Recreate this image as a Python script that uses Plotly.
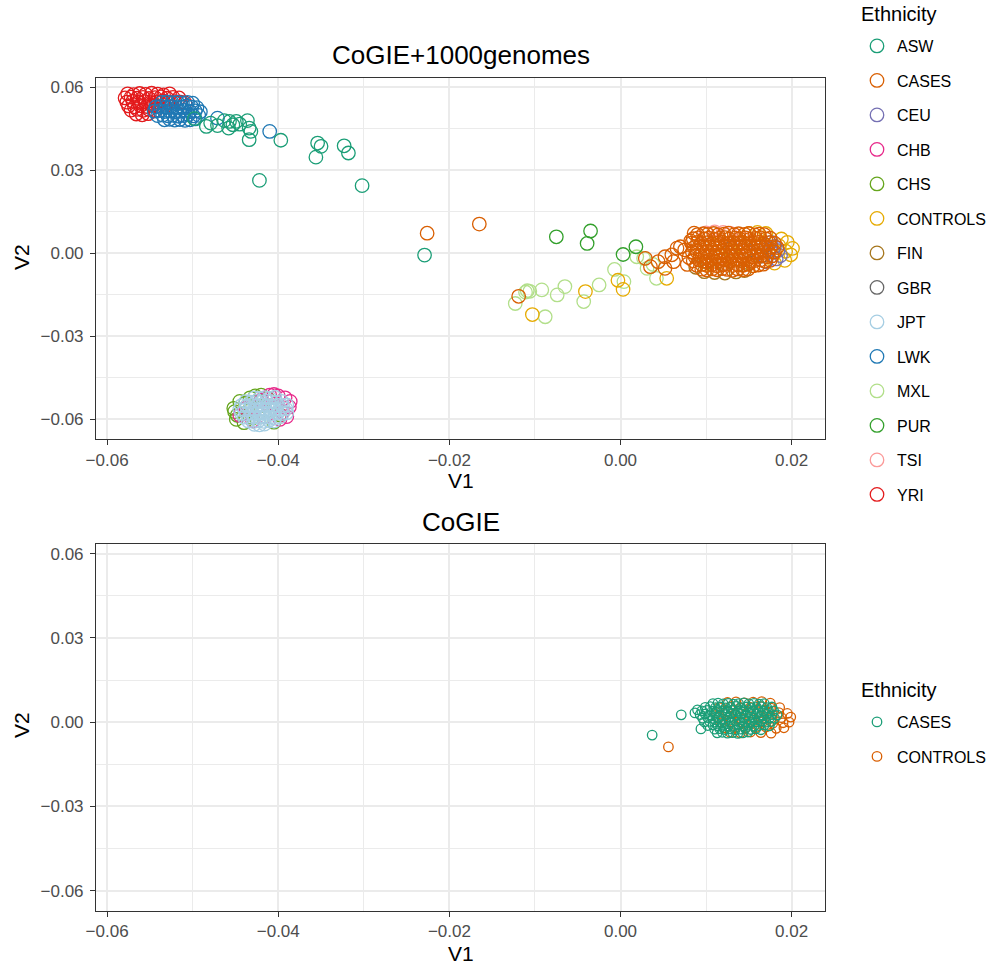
import plotly.graph_objects as go

# ---------------- CoGIE + 1000 Genomes: first two PCs per population ----------------
asw_v1 = [-0.0498, -0.0484, -0.0471, -0.0463, -0.0457, -0.0453, -0.0449, -0.0436, -0.0434, -0.0432,
          -0.0434, -0.0397, -0.0354, -0.0350, -0.0356, -0.0323, -0.0318, -0.0422, -0.0302, -0.0479,
          -0.0445, -0.0458, -0.0229]
asw_v2 = [0.0487, 0.0459, 0.0462, 0.0480, 0.0477, 0.0465, 0.0477, 0.0480, 0.0453, 0.0441,
          0.0411, 0.0409, 0.0399, 0.0387, 0.0348, 0.0389, 0.0363, 0.0264, 0.0245, 0.0471,
          0.0467, 0.0453, -0.0006]

yri_v1 = [-0.0576, -0.0569, -0.0562, -0.0555, -0.0548, -0.0541, -0.0534, -0.0527,
          -0.0579, -0.0572, -0.0565, -0.0558, -0.0551, -0.0544, -0.0537, -0.0530, -0.0523, -0.0516,
          -0.0577, -0.0570, -0.0563, -0.0556, -0.0549, -0.0542, -0.0535, -0.0528, -0.0521, -0.0514, -0.0509,
          -0.0575, -0.0568, -0.0561, -0.0554, -0.0547, -0.0540, -0.0533,
          -0.0572, -0.0565, -0.0558, -0.0551, -0.0544,
          -0.0566, -0.0559, -0.0552]
yri_v2 = [0.0577, 0.0574, 0.0578, 0.0575, 0.0579, 0.0576, 0.0573, 0.0577,
          0.0562, 0.0565, 0.0561, 0.0564, 0.0560, 0.0563, 0.0566, 0.0561, 0.0564, 0.0562,
          0.0547, 0.0550, 0.0546, 0.0549, 0.0545, 0.0548, 0.0551, 0.0546, 0.0549, 0.0547, 0.0544,
          0.0533, 0.0530, 0.0534, 0.0531, 0.0535, 0.0532, 0.0529,
          0.0518, 0.0521, 0.0517, 0.0520, 0.0516,
          0.0504, 0.0501, 0.0505]

lwk_v1 = [-0.0536, -0.0530, -0.0524, -0.0518, -0.0512, -0.0506, -0.0500,
          -0.0543, -0.0537, -0.0531, -0.0525, -0.0519, -0.0513, -0.0507, -0.0501, -0.0495,
          -0.0545, -0.0539, -0.0533, -0.0527, -0.0521, -0.0515, -0.0509, -0.0503, -0.0497, -0.0491,
          -0.0541, -0.0535, -0.0529, -0.0523, -0.0517, -0.0511, -0.0505, -0.0499, -0.0493,
          -0.0533, -0.0527, -0.0521, -0.0515, -0.0509, -0.0503, -0.0497,
          -0.0471, -0.0410]
lwk_v2 = [0.0546, 0.0548, 0.0545, 0.0547, 0.0544, 0.0546, 0.0543,
          0.0530, 0.0532, 0.0529, 0.0531, 0.0528, 0.0530, 0.0533, 0.0529, 0.0527,
          0.0514, 0.0516, 0.0513, 0.0515, 0.0512, 0.0514, 0.0517, 0.0513, 0.0515, 0.0512,
          0.0498, 0.0500, 0.0497, 0.0499, 0.0496, 0.0498, 0.0501, 0.0497, 0.0499,
          0.0483, 0.0485, 0.0482, 0.0484, 0.0481, 0.0483, 0.0486,
          0.0489, 0.0441]

chs_v1 = [-0.0452, -0.0448, -0.0445, -0.0440, -0.0427, -0.0420, -0.0412, -0.0435, -0.0430, -0.0418,
          -0.0405, -0.0449, -0.0438, -0.0424, -0.0398, -0.0451, -0.0433]
chs_v2 = [-0.0560, -0.0585, -0.0535, -0.0612, -0.0515, -0.0512, -0.0525, -0.0570, -0.0595, -0.0550,
          -0.0610, -0.0600, -0.0540, -0.0580, -0.0584, -0.0572, -0.0522]

chb_v1 = [-0.0410, -0.0400, -0.0392, -0.0386, -0.0387, -0.0395, -0.0420, -0.0438, -0.0430, -0.0415,
          -0.0404, -0.0445, -0.0425, -0.0398, -0.0405, -0.0390]
chb_v2 = [-0.0512, -0.0515, -0.0522, -0.0535, -0.0555, -0.0575, -0.0530, -0.0560, -0.0605, -0.0590,
          -0.0545, -0.0585, -0.0555, -0.0600, -0.0510, -0.0590]

jpt_v1 = [-0.0428, -0.0422, -0.0416, -0.0410, -0.0404,
          -0.0438, -0.0432, -0.0426, -0.0420, -0.0414, -0.0408, -0.0402, -0.0396,
          -0.0443, -0.0437, -0.0431, -0.0425, -0.0419, -0.0413, -0.0407, -0.0401, -0.0395, -0.0390,
          -0.0445, -0.0439, -0.0433, -0.0427, -0.0421, -0.0415, -0.0409, -0.0403, -0.0397, -0.0391,
          -0.0443, -0.0437, -0.0431, -0.0425, -0.0419, -0.0413, -0.0407, -0.0401, -0.0395, -0.0390,
          -0.0440, -0.0434, -0.0428, -0.0422, -0.0416, -0.0410, -0.0404, -0.0398,
          -0.0435, -0.0429, -0.0423, -0.0417, -0.0411, -0.0405,
          -0.0428, -0.0422, -0.0416]
jpt_v2 = [-0.0522, -0.0524, -0.0521, -0.0523, -0.0520,
          -0.0536, -0.0538, -0.0535, -0.0537, -0.0534, -0.0536, -0.0539, -0.0535,
          -0.0550, -0.0552, -0.0549, -0.0551, -0.0548, -0.0550, -0.0553, -0.0549, -0.0551, -0.0548,
          -0.0564, -0.0566, -0.0563, -0.0565, -0.0562, -0.0564, -0.0567, -0.0563, -0.0565, -0.0562,
          -0.0578, -0.0580, -0.0577, -0.0579, -0.0576, -0.0578, -0.0581, -0.0577, -0.0579, -0.0576,
          -0.0592, -0.0594, -0.0591, -0.0593, -0.0590, -0.0592, -0.0595, -0.0591,
          -0.0606, -0.0608, -0.0605, -0.0607, -0.0604, -0.0606,
          -0.0618, -0.0620, -0.0617]

mxl_v1 = [-0.0123, -0.0111, -0.0106, -0.0092, -0.0074, -0.0065, -0.0088, -0.0043, -0.0025, -0.0007,
          0.0004, 0.0019, 0.0031, 0.0042, 0.0027, 0.0038, -0.0109]
mxl_v2 = [-0.0181, -0.0140, -0.0137, -0.0132, -0.0150, -0.0120, -0.0229, -0.0174, -0.0114, -0.0058,
          -0.0102, -0.0012, -0.0054, -0.0090, -0.0018, -0.0040, -0.0135]

pur_v1 = [-0.0075, -0.0035, -0.0039, 0.0003, 0.0018]
pur_v2 = [0.0060, 0.0081, 0.0036, -0.0004, 0.0024]

tsi_v1 = [0.0100, 0.0110, 0.0120, 0.0128, 0.0112, 0.0135, 0.0150, 0.0125, 0.0145]
tsi_v2 = [0.0074, 0.0078, 0.0076, 0.0073, 0.0040, 0.0020, 0.0000, -0.0020, 0.0050]

fin_v1 = [0.0088, 0.0098, 0.0110, 0.0122, 0.0135, 0.0145, 0.0100, 0.0120, 0.0150, 0.0130]
fin_v2 = [-0.0050, -0.0066, -0.0069, -0.0071, -0.0067, -0.0062, -0.0030, -0.0040, -0.0035, -0.0010]

gbr_v1 = [0.0130, 0.0150, 0.0165, 0.0170, 0.0178]
gbr_v2 = [0.0020, 0.0010, -0.0010, 0.0030, 0.0005]

ceu_v1 = [0.0180, 0.0184, 0.0187, 0.0182, 0.0176, 0.0170, 0.0160, 0.0175]
ceu_v2 = [0.0025, 0.0010, -0.0008, -0.0020, 0.0040, -0.0030, 0.0010, 0.0015]

controls_v1 = [-0.0103, -0.0041, -0.0003, 0.0003, 0.0054, 0.0195, 0.0201, 0.0199, 0.0192, 0.0188,
               0.0180, 0.0170, 0.0160, 0.0150, 0.0140, 0.0130, 0.0120, 0.0110, 0.0100, 0.0155,
               0.0185, 0.0193]
controls_v2 = [-0.0221, -0.0138, -0.0097, -0.0130, -0.0090, 0.0040, 0.0018, -0.0005, -0.0025, 0.0052,
               -0.0035, 0.0072, 0.0076, 0.0072, 0.0040, 0.0010, -0.0020, 0.0030, -0.0040, -0.0045,
               0.0028, 0.0008]

cases_v1 = [-0.0226, -0.0165, -0.0119,
            0.0029, 0.0035, 0.0044, 0.0052, 0.0052, 0.0062, 0.0066, 0.0070, 0.0086, 0.0060, 0.0075,
            0.0078, 0.0082, 0.0080,
            0.0090, 0.0097, 0.0102, 0.0109, 0.0114, 0.0121, 0.0126, 0.0133, 0.0138, 0.0145, 0.0150,
            0.0157, 0.0162, 0.0168,
            0.0085, 0.0091, 0.0098, 0.0103, 0.0110, 0.0115, 0.0122, 0.0127, 0.0134, 0.0139, 0.0146,
            0.0151, 0.0158, 0.0163, 0.0170, 0.0175,
            0.0083, 0.0090, 0.0095, 0.0102, 0.0107, 0.0114, 0.0119, 0.0126, 0.0131, 0.0138, 0.0143,
            0.0150, 0.0155, 0.0162, 0.0167, 0.0174, 0.0180,
            0.0086, 0.0092, 0.0098, 0.0104, 0.0110, 0.0116, 0.0122, 0.0128, 0.0134, 0.0140, 0.0146,
            0.0152, 0.0158, 0.0164, 0.0170, 0.0176, 0.0183,
            0.0084, 0.0089, 0.0096, 0.0101, 0.0108, 0.0113, 0.0120, 0.0125, 0.0132, 0.0137, 0.0144,
            0.0149, 0.0156, 0.0161, 0.0168, 0.0173, 0.0180,
            0.0087, 0.0093, 0.0099, 0.0105, 0.0111, 0.0117, 0.0123, 0.0129, 0.0135, 0.0141, 0.0147,
            0.0153, 0.0159, 0.0165, 0.0171, 0.0177,
            0.0085, 0.0092, 0.0097, 0.0104, 0.0109, 0.0116, 0.0121, 0.0128, 0.0133, 0.0140, 0.0145,
            0.0152, 0.0157, 0.0164, 0.0169, 0.0175,
            0.0089, 0.0095, 0.0101, 0.0107, 0.0113, 0.0119, 0.0125, 0.0131, 0.0137, 0.0143, 0.0149,
            0.0155, 0.0161, 0.0167,
            0.0095, 0.0101, 0.0107, 0.0113, 0.0119, 0.0125, 0.0131, 0.0137, 0.0143, 0.0149]
cases_v2 = [0.0073, 0.0106, -0.0155,
            -0.0018, -0.0048, -0.0030, -0.0012, -0.0054, -0.0030, 0.0019, 0.0024, 0.0073, -0.0005, 0.0013,
            -0.0040, 0.0045, -0.0015,
            0.0068, 0.0071, 0.0069, 0.0072, 0.0067, 0.0070, 0.0073, 0.0068, 0.0071, 0.0069, 0.0072,
            0.0067, 0.0070, 0.0068,
            0.0053, 0.0056, 0.0052, 0.0055, 0.0051, 0.0054, 0.0057, 0.0052, 0.0055, 0.0053, 0.0056,
            0.0051, 0.0054, 0.0057, 0.0052, 0.0055,
            0.0037, 0.0040, 0.0036, 0.0039, 0.0035, 0.0038, 0.0041, 0.0036, 0.0039, 0.0037, 0.0040,
            0.0035, 0.0038, 0.0041, 0.0036, 0.0039, 0.0037,
            0.0021, 0.0024, 0.0020, 0.0023, 0.0019, 0.0022, 0.0025, 0.0020, 0.0023, 0.0021, 0.0024,
            0.0019, 0.0022, 0.0025, 0.0020, 0.0023, 0.0021,
            0.0005, 0.0008, 0.0004, 0.0007, 0.0003, 0.0006, 0.0009, 0.0004, 0.0007, 0.0005, 0.0008,
            0.0003, 0.0006, 0.0009, 0.0004, 0.0007, 0.0005,
            -0.0011, -0.0008, -0.0012, -0.0009, -0.0013, -0.0010, -0.0007, -0.0012, -0.0009, -0.0011, -0.0008,
            -0.0013, -0.0010, -0.0007, -0.0012, -0.0009,
            -0.0027, -0.0024, -0.0028, -0.0025, -0.0029, -0.0026, -0.0023, -0.0028, -0.0025, -0.0027, -0.0024,
            -0.0029, -0.0026, -0.0023, -0.0028, -0.0025,
            -0.0043, -0.0040, -0.0044, -0.0041, -0.0045, -0.0042, -0.0039, -0.0044, -0.0041, -0.0043, -0.0040,
            -0.0045, -0.0042, -0.0039,
            -0.0057, -0.0060, -0.0056, -0.0059, -0.0055, -0.0058, -0.0061, -0.0056, -0.0059, -0.0057]

# ---------------- CoGIE only ----------------
cogie_controls_v1 = [0.0125, 0.0135, 0.0145, 0.0155, 0.0165, 0.0175,
                     0.0115, 0.0128, 0.0140, 0.0152, 0.0164, 0.0176, 0.0186,
                     0.0112, 0.0125, 0.0137, 0.0149, 0.0161, 0.0173, 0.0185, 0.0195,
                     0.0115, 0.0128, 0.0140, 0.0152, 0.0164, 0.0176, 0.0188, 0.0199,
                     0.0118, 0.0130, 0.0142, 0.0154, 0.0166, 0.0178, 0.0190, 0.0197,
                     0.0122, 0.0134, 0.0146, 0.0158, 0.0170, 0.0182, 0.0191,
                     0.0128, 0.0140, 0.0152, 0.0164, 0.0176,
                     0.0056]
cogie_controls_v2 = [0.0070, 0.0072, 0.0069, 0.0071, 0.0073, 0.0068,
                     0.0052, 0.0054, 0.0051, 0.0053, 0.0055, 0.0050, 0.0052,
                     0.0034, 0.0036, 0.0033, 0.0035, 0.0037, 0.0032, 0.0034, 0.0031,
                     0.0016, 0.0018, 0.0015, 0.0017, 0.0019, 0.0014, 0.0016, 0.0018,
                     -0.0002, 0.0000, -0.0003, -0.0001, 0.0001, -0.0004, -0.0002, 0.0000,
                     -0.0020, -0.0018, -0.0021, -0.0019, -0.0017, -0.0022, -0.0020,
                     -0.0036, -0.0038, -0.0035, -0.0037, -0.0039,
                     -0.0088]

cogie_cases_v1 = [0.0071, 0.0037, 0.0094, 0.0087, 0.0090,
                  0.0108, 0.0114, 0.0120, 0.0126, 0.0132, 0.0138, 0.0144, 0.0150, 0.0156, 0.0162, 0.0168,
                  0.0099, 0.0105, 0.0111, 0.0117, 0.0123, 0.0129, 0.0135, 0.0141, 0.0147, 0.0153, 0.0159,
                  0.0165, 0.0171, 0.0177,
                  0.0095, 0.0101, 0.0107, 0.0113, 0.0119, 0.0125, 0.0131, 0.0137, 0.0143, 0.0149, 0.0155,
                  0.0161, 0.0167, 0.0173, 0.0179,
                  0.0093, 0.0099, 0.0105, 0.0111, 0.0117, 0.0123, 0.0129, 0.0135, 0.0141, 0.0147, 0.0153,
                  0.0159, 0.0165, 0.0171, 0.0177, 0.0183,
                  0.0096, 0.0102, 0.0108, 0.0114, 0.0120, 0.0126, 0.0132, 0.0138, 0.0144, 0.0150, 0.0156,
                  0.0162, 0.0168, 0.0174, 0.0180,
                  0.0098, 0.0104, 0.0110, 0.0116, 0.0122, 0.0128, 0.0134, 0.0140, 0.0146, 0.0152, 0.0158,
                  0.0164, 0.0170, 0.0176,
                  0.0102, 0.0108, 0.0114, 0.0120, 0.0126, 0.0132, 0.0138, 0.0144, 0.0150, 0.0156, 0.0162,
                  0.0168, 0.0174,
                  0.0110, 0.0116, 0.0122, 0.0128, 0.0134, 0.0140, 0.0146, 0.0152, 0.0158, 0.0164,
                  0.0113, 0.0119, 0.0125, 0.0131, 0.0137, 0.0143, 0.0149]
cogie_cases_v2 = [0.0026, -0.0046, -0.0024, 0.0033, 0.0044,
                  0.0066, 0.0068, 0.0065, 0.0067, 0.0064, 0.0066, 0.0069, 0.0065, 0.0067, 0.0064, 0.0066,
                  0.0053, 0.0055, 0.0052, 0.0054, 0.0051, 0.0053, 0.0056, 0.0052, 0.0054, 0.0051, 0.0053,
                  0.0055, 0.0052, 0.0054,
                  0.0040, 0.0042, 0.0039, 0.0041, 0.0038, 0.0040, 0.0043, 0.0039, 0.0041, 0.0038, 0.0040,
                  0.0042, 0.0039, 0.0041, 0.0040,
                  0.0027, 0.0029, 0.0026, 0.0028, 0.0025, 0.0027, 0.0030, 0.0026, 0.0028, 0.0025, 0.0027,
                  0.0029, 0.0026, 0.0028, 0.0027, 0.0026,
                  0.0014, 0.0016, 0.0013, 0.0015, 0.0012, 0.0014, 0.0017, 0.0013, 0.0015, 0.0012, 0.0014,
                  0.0016, 0.0013, 0.0015, 0.0014,
                  0.0001, 0.0003, 0.0000, 0.0002, -0.0001, 0.0001, 0.0004, 0.0000, 0.0002, -0.0001, 0.0001,
                  0.0003, 0.0000, 0.0002,
                  -0.0012, -0.0010, -0.0013, -0.0011, -0.0014, -0.0012, -0.0009, -0.0013, -0.0011, -0.0014,
                  -0.0012, -0.0010, -0.0013,
                  -0.0025, -0.0023, -0.0026, -0.0024, -0.0027, -0.0025, -0.0022, -0.0026, -0.0024, -0.0027,
                  -0.0038, -0.0036, -0.0039, -0.0037, -0.0040, -0.0038, -0.0035]

# Legend (alphabetical) order and colours
ethnicity_labels = ["ASW", "CASES", "CEU", "CHB", "CHS", "CONTROLS", "FIN", "GBR",
                    "JPT", "LWK", "MXL", "PUR", "TSI", "YRI"]
ethnicity_colors = ["#1B9E77", "#D95F02", "#7570B3", "#E7298A", "#66A61E", "#E6AB02", "#A6761D",
                    "#666666", "#A6CEE3", "#1F78B4", "#B2DF8A", "#33A02C", "#FB9A99", "#E31A1C"]
cogie_labels = ["CASES", "CONTROLS"]
cogie_colors = ["#1B9E77", "#D95F02"]

x_ticks = [-0.06, -0.04, -0.02, 0.00, 0.02]
y_ticks = [-0.06, -0.03, 0.00, 0.03, 0.06]
x_minor = [-0.05, -0.03, -0.01, 0.01]
y_minor = [-0.045, -0.015, 0.015, 0.045]
x_range = [-0.0613, 0.0239]
y_range = [-0.0672, 0.0633]

groups = {
    "ASW": (asw_v1, asw_v2), "CASES": (cases_v1, cases_v2), "CEU": (ceu_v1, ceu_v2),
    "CHB": (chb_v1, chb_v2), "CHS": (chs_v1, chs_v2), "CONTROLS": (controls_v1, controls_v2),
    "FIN": (fin_v1, fin_v2), "GBR": (gbr_v1, gbr_v2), "JPT": (jpt_v1, jpt_v2),
    "LWK": (lwk_v1, lwk_v2), "MXL": (mxl_v1, mxl_v2), "PUR": (pur_v1, pur_v2),
    "TSI": (tsi_v1, tsi_v2), "YRI": (yri_v1, yri_v2),
}
# painting order (later traces sit on top)
draw_order = ["YRI", "LWK", "ASW", "CHS", "CHB", "JPT", "FIN", "GBR", "TSI", "MXL", "PUR",
              "CONTROLS", "CEU", "CASES"]

FONT = "Liberation Sans, Arial, Helvetica, sans-serif"
W, H = 991, 966

fig = go.Figure()

for name in draw_order:
    v1, v2 = groups[name]
    k = ethnicity_labels.index(name)
    fig.add_trace(go.Scatter(
        x=v1, y=v2, mode="markers", name=name,
        legend="legend", legendgroup="top_" + name, legendrank=k + 1,
        marker=dict(symbol="circle-open", size=13.5, color=ethnicity_colors[k], line=dict(width=1.3)),
        xaxis="x", yaxis="y", hoverinfo="skip",
    ))

cogie_groups = {"CASES": (cogie_cases_v1, cogie_cases_v2),
                "CONTROLS": (cogie_controls_v1, cogie_controls_v2)}
for name in ["CONTROLS", "CASES"]:
    v1, v2 = cogie_groups[name]
    k = cogie_labels.index(name)
    fig.add_trace(go.Scatter(
        x=v1, y=v2, mode="markers", name=name,
        legend="legend2", legendgroup="bottom_" + name, legendrank=k + 1,
        marker=dict(symbol="circle-open", size=9.5, color=cogie_colors[k], line=dict(width=1.3)),
        xaxis="x2", yaxis="y2", hoverinfo="skip",
    ))


def px_x(p):
    return p / W


def px_y(p):
    return 1 - p / H


def axis_common():
    return dict(
        ticks="outside", ticklen=5, tickwidth=1.1, tickformat=".2f",
        tickcolor="#333333", tickfont=dict(family=FONT, size=17, color="#4D4D4D"),
        showline=True, mirror=True, linecolor="#333333", linewidth=1.1,
        showgrid=True, gridcolor="#EBEBEB", gridwidth=1.8, zeroline=False,
        automargin=False,
    )


def x_axis(anchor):
    d = axis_common()
    d.update(domain=[px_x(96), px_x(825)], range=x_range, anchor=anchor, tickvals=x_ticks,
             minor=dict(tickvals=x_minor, showgrid=True, gridcolor="#EBEBEB", gridwidth=0.9))
    return d


def y_axis(anchor, top, bottom):
    d = axis_common()
    d.update(domain=[px_y(bottom), px_y(top)], range=y_range, anchor=anchor, tickvals=y_ticks,
             ticklabelstandoff=3,
             minor=dict(tickvals=y_minor, showgrid=True, gridcolor="#EBEBEB", gridwidth=0.9))
    return d


TOP = (78.3, 439.3)
BOT = (544.3, 911.0)

legend_common = dict(
    xanchor="left", yanchor="top", bgcolor="rgba(0,0,0,0)",
    font=dict(family=FONT, size=16, color="black"),
    tracegroupgap=10.7, itemsizing="trace", traceorder="grouped",
)

annotations = [
    dict(text="CoGIE+1000genomes", x=px_x(461), y=px_y(55), font=dict(size=26)),
    dict(text="V1", x=px_x(461), y=px_y(481), font=dict(size=21)),
    dict(text="V2", x=px_x(21), y=px_y(257), font=dict(size=21), textangle=-90),
    dict(text="CoGIE", x=px_x(461), y=px_y(522), font=dict(size=26)),
    dict(text="V1", x=px_x(461), y=px_y(953), font=dict(size=21)),
    dict(text="V2", x=px_x(21), y=px_y(725), font=dict(size=21), textangle=-90),
]
for a in annotations:
    a.update(xanchor="center")
for t, yy in [("Ethnicity", 14), ("Ethnicity", 690)]:
    annotations.append(dict(text=t, x=px_x(859), y=px_y(yy), xanchor="left", font=dict(size=20)))
for a in annotations:
    a.update(xref="paper", yref="paper", showarrow=False, yanchor="middle")
    a["font"].update(family=FONT, color="black")

fig.update_layout(
    width=W, height=H, autosize=False,
    margin=dict(l=0, r=0, t=0, b=0),
    paper_bgcolor="white", plot_bgcolor="white",
    font=dict(family=FONT, color="black"),
    xaxis=x_axis("y"), yaxis=y_axis("x", *TOP),
    xaxis2=x_axis("y2"), yaxis2=y_axis("x2", *BOT),
    legend=dict(x=px_x(857), y=px_y(29), **legend_common),
    legend2=dict(x=px_x(857), y=px_y(705), **legend_common),
    annotations=annotations,
    showlegend=True,
)

fig.write_html("out.html")
